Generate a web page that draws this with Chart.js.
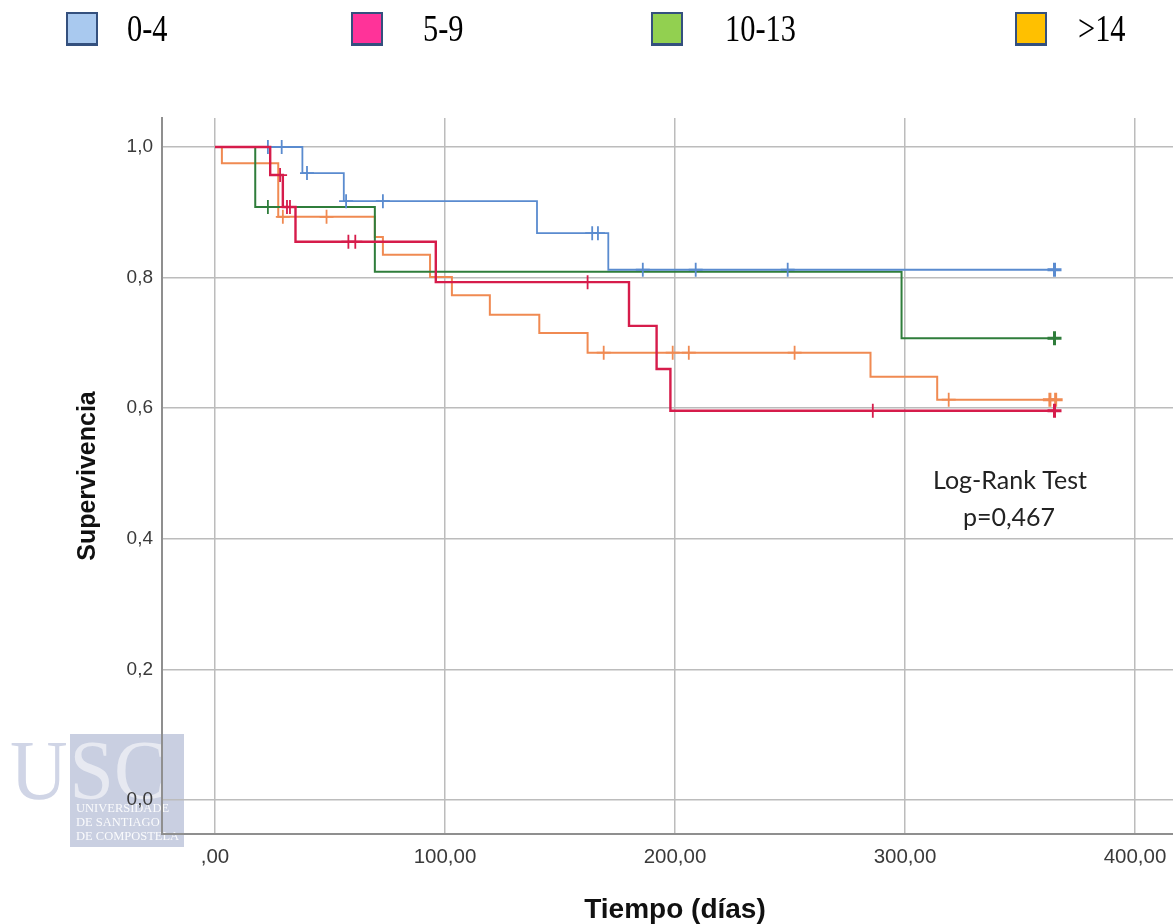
<!DOCTYPE html>
<html>
<head>
<meta charset="utf-8">
<script src="https://cdn.jsdelivr.net/npm/chart.js@4.4.0/dist/chart.umd.min.js"></script>
<style>
  body { margin: 0; background: #fff; }
  #wrap { position: relative; width: 1173px; height: 924px; }
  #km { position: absolute; left: 0; top: 0; }
  .box { position: absolute; top: 12px; width: 28px; height: 29px; border: 2px solid #34507e; border-bottom-width: 3px; }
  .lbl { position: absolute; top: 9px; font-family: 'Liberation Serif', 'Times New Roman', serif; font-size: 38px; line-height: 38px; color: #000; transform: scaleX(0.8); transform-origin: left top; white-space: nowrap; }
</style>
</head>
<body>
<div id="wrap">
  <canvas id="km" width="1173" height="924"></canvas>
</div>
<script>
// grupos y colores de la leyenda (la leyenda del original no usa los colores de las curvas)
const groups = ['0-4', '5-9', '10-13', '>14'];
const legendFill = ['#a9c9ef', '#ff3399', '#92d050', '#ffc000'];

// tiempos de evento (días) y supervivencia acumulada tras cada evento
const t04 = [0, 38, 56, 140, 171, 365];
const s04 = [1.0, 0.960, 0.917, 0.868, 0.812, 0.812];
const c04 = [23, 29, 40, 57, 73, 164, 166.5, 186, 209, 249, 365];

const t59 = [0, 24, 29.5, 35, 96, 180, 192, 198, 365];
const s59 = [1.0, 0.957, 0.908, 0.855, 0.793, 0.726, 0.660, 0.596, 0.596];
const c59 = [28.3, 31.3, 32.6, 58, 61, 162, 286, 365];

const t1013 = [0, 17.5, 69.5, 298.5, 365];
const s1013 = [1.0, 0.908, 0.809, 0.707, 0.707];
const c1013 = [23, 365];

const t14 = [0, 3, 27.5, 69.5, 73, 93.5, 103, 119.5, 141, 162, 285, 314, 365];
const s14 = [1.0, 0.975, 0.893, 0.862, 0.835, 0.801, 0.773, 0.743, 0.715, 0.685, 0.648, 0.613, 0.613];
const c14 = [29.5, 48.5, 169, 199, 206, 252, 319, 363, 365.5];

const xTickValues = [0, 100, 200, 300, 400];
const xTickLabels = [',00', '100,00', '200,00', '300,00', '400,00'];
const yTickValues = [0, 0.2, 0.4, 0.6, 0.8, 1.0];
const yTickLabels = ['0,0', '0,2', '0,4', '0,6', '0,8', '1,0'];

// leyenda de arriba
const legendX = [66, 351, 651, 1015];
const textX = [127, 423, 725, 1078];
const wrap = document.getElementById('wrap');
groups.forEach((g, i) => {
  const b = document.createElement('div');
  b.className = 'box';
  b.style.left = legendX[i] + 'px';
  b.style.background = legendFill[i];
  wrap.appendChild(b);
  const l = document.createElement('div');
  l.className = 'lbl';
  l.style.left = textX[i] + 'px';
  l.textContent = g;
  wrap.appendChild(l);
});

function survAt(times, surv, t) {
  let s = surv[0];
  for (let i = 0; i < times.length; i++) {
    if (times[i] <= t) s = surv[i];
  }
  return s;
}

function curve(times, surv, color, w, order) {
  return {
    data: times.map((t, i) => ({ x: t, y: surv[i] })),
    showLine: true,
    stepped: true,
    borderColor: color,
    borderWidth: w,
    pointRadius: 0,
    fill: false,
    order: order
  };
}

function marks(times, surv, cens, color, order) {
  return {
    data: cens.map(t => ({ x: t, y: survAt(times, surv, t) })),
    showLine: false,
    pointStyle: 'cross',
    pointRadius: 7,
    pointBorderWidth: ctx => (ctx.raw && ctx.raw.x > 360 ? 3 : 1.8),
    borderColor: color,
    backgroundColor: color,
    order: order
  };
}

const blue = '#5a8bcf';
const red = '#d61c4b';
const green = '#2f7d3b';
const orange = '#f08a52';

// marca de agua USC, por debajo de todo
const watermark = {
  id: 'watermark',
  beforeDraw(chart) {
    const c = chart.ctx;
    c.save();
    c.fillStyle = '#c9cfe1';
    c.fillRect(70, 734, 114, 113);
    c.font = '84px "Liberation Serif"';
    c.textBaseline = 'alphabetic';
    c.save();
    c.translate(10, 799);
    c.scale(0.95, 1);
    c.fillStyle = '#d0d5e6';
    c.fillText('U', 0, 0);
    const wu = c.measureText('U').width;
    c.fillStyle = 'rgba(255,255,255,0.55)';
    c.fillText('SC', wu + 2, 0);
    c.restore();
    c.fillStyle = 'rgba(255,255,255,0.9)';
    c.font = '12.5px "Liberation Serif"';
    c.fillText('UNIVERSIDADE', 76, 812);
    c.fillText('DE SANTIAGO', 76, 826);
    c.fillText('DE COMPOSTELA', 76, 840);
    c.restore();
  }
};

// texto del test y título del eje x (un poco desplazado a la derecha en el original)
const texts = {
  id: 'texts',
  afterDraw(chart) {
    const c = chart.ctx;
    c.save();
    c.fillStyle = '#222';
    c.font = '25px Lato';
    c.textAlign = 'center';
    c.textBaseline = 'middle';
    c.fillText('Log-Rank Test', 1010, 481);
    c.fillText('p=0,467', 1009, 518);
    c.fillStyle = '#111';
    c.font = 'bold 28px "Liberation Sans"';
    c.fillText('Tiempo (días)', 675, 910);
    c.restore();
  }
};

const gridCol = '#bcbcbc';
const axisCol = '#8f8f8f';

new Chart(document.getElementById('km'), {
  type: 'scatter',
  data: {
    datasets: [
      curve(t59, s59, red, 2.4, 1),
      marks(t59, s59, c59, red, 0),
      curve(t04, s04, blue, 1.8, 3),
      marks(t04, s04, c04, blue, 2),
      curve(t1013, s1013, green, 2, 5),
      marks(t1013, s1013, c1013, green, 4),
      curve(t14, s14, orange, 2, 7),
      marks(t14, s14, c14, orange, 6)
    ]
  },
  options: {
    responsive: false,
    animation: false,
    layout: { autoPadding: false, padding: { top: 118, right: 0, left: 0, bottom: 0 } },
    plugins: {
      legend: { display: false },
      tooltip: { enabled: false }
    },
    scales: {
      x: {
        type: 'linear',
        min: -23.04,
        max: 416.52,
        afterBuildTicks: s => { s.ticks = xTickValues.map(v => ({ value: v })); },
        afterFit: s => { s.height = 90; s.paddingLeft = 0; s.paddingRight = 0; },
        ticks: {
          autoSkip: false,
          maxRotation: 0,
          padding: 11,
          color: '#3a3a3a',
          font: { family: 'Liberation Sans', size: 20.5 },
          callback: v => xTickLabels[xTickValues.indexOf(v)]
        },
        grid: { color: gridCol, lineWidth: 1.5, drawTicks: false },
        border: { display: true, color: axisCol, width: 2 },
        title: { display: false }
      },
      y: {
        type: 'linear',
        min: -0.0521,
        max: 1.0444,
        afterBuildTicks: s => { s.ticks = yTickValues.map(v => ({ value: v })); },
        afterFit: s => { s.width = 162; s.paddingTop = 0; s.paddingBottom = 0; },
        ticks: {
          autoSkip: false,
          padding: 9,
          color: '#3a3a3a',
          font: { family: 'Liberation Sans', size: 19 },
          callback: v => yTickLabels[yTickValues.findIndex(k => Math.abs(k - v) < 1e-6)]
        },
        grid: { color: gridCol, lineWidth: 1.5, drawTicks: false },
        border: { display: true, color: axisCol, width: 2 },
        title: {
          display: true,
          text: 'Supervivencia',
          color: '#111',
          font: { family: 'Liberation Sans', size: 25, weight: 'bold' },
          padding: { top: 73, bottom: 0 }
        }
      }
    }
  },
  plugins: [watermark, texts]
});
</script>
</body>
</html>
